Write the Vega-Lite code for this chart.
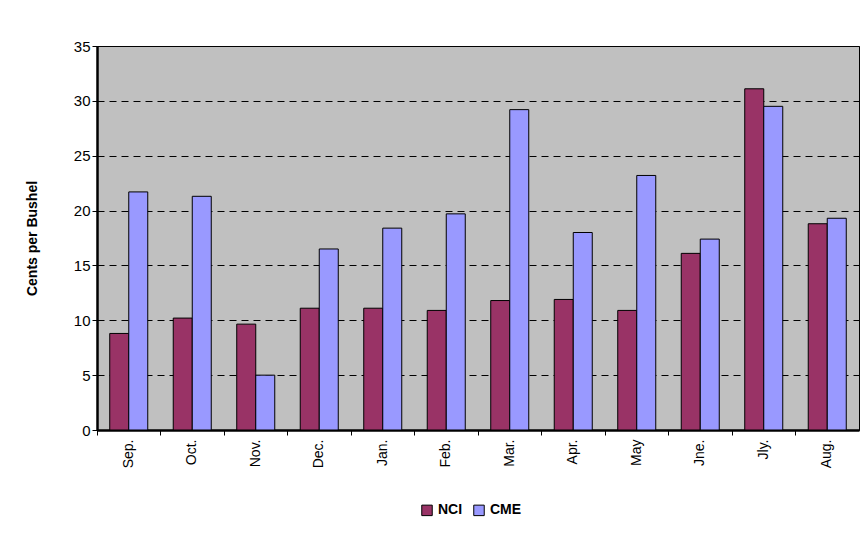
{
  "$schema": "https://vega.github.io/schema/vega-lite/v6.json",
  "width": 762,
  "height": 384,
  "autosize": {"type": "none"},
  "padding": {"left": 97, "top": 46, "right": 5, "bottom": 107},
  "background": "white",
  "config": {
    "font": "Liberation Sans",
    "view": {"fill": "#C0C0C0", "stroke": "black", "strokeWidth": 1}
  },
  "data": {
    "values": [
      {"month": "Sep.", "series": "NCI", "value": 8.8},
      {"month": "Sep.", "series": "CME", "value": 21.7},
      {"month": "Oct.", "series": "NCI", "value": 10.2},
      {"month": "Oct.", "series": "CME", "value": 21.3},
      {"month": "Nov.", "series": "NCI", "value": 9.65},
      {"month": "Nov.", "series": "CME", "value": 5.0},
      {"month": "Dec.", "series": "NCI", "value": 11.1},
      {"month": "Dec.", "series": "CME", "value": 16.5},
      {"month": "Jan.", "series": "NCI", "value": 11.1},
      {"month": "Jan.", "series": "CME", "value": 18.4},
      {"month": "Feb.", "series": "NCI", "value": 10.9},
      {"month": "Feb.", "series": "CME", "value": 19.7},
      {"month": "Mar.", "series": "NCI", "value": 11.8},
      {"month": "Mar.", "series": "CME", "value": 29.2},
      {"month": "Apr.", "series": "NCI", "value": 11.9},
      {"month": "Apr.", "series": "CME", "value": 18.0},
      {"month": "May", "series": "NCI", "value": 10.9},
      {"month": "May", "series": "CME", "value": 23.2},
      {"month": "Jne.", "series": "NCI", "value": 16.1},
      {"month": "Jne.", "series": "CME", "value": 17.4},
      {"month": "Jly.", "series": "NCI", "value": 31.1},
      {"month": "Jly.", "series": "CME", "value": 29.5},
      {"month": "Aug.", "series": "NCI", "value": 18.8},
      {"month": "Aug.", "series": "CME", "value": 19.3}
    ]
  },
  "mark": {"type": "bar", "stroke": "black", "strokeWidth": 1},
  "encoding": {
    "x": {
      "field": "month",
      "type": "nominal",
      "sort": null,
      "scale": {"paddingInner": 0, "paddingOuter": 0},
      "axis": {
        "title": null,
        "labelAngle": -90,
        "labelFontSize": 14,
        "labelColor": "black",
        "bandPosition": 0,
        "domainColor": "black",
        "domainWidth": 2.5,
        "tickColor": "black",
        "tickSize": 5,
        "labelPadding": 4,
        "grid": false
      }
    },
    "xOffset": {
      "field": "series",
      "type": "nominal",
      "sort": ["NCI", "CME"],
      "scale": {"paddingInner": 0, "paddingOuter": 0.67}
    },
    "y": {
      "field": "value",
      "type": "quantitative",
      "scale": {"domain": [0, 35]},
      "axis": {
        "title": "Cents per Bushel",
        "titleFontSize": 14,
        "titleFontWeight": "bold",
        "titleColor": "black",
        "titlePadding": 34,
        "values": [0, 5, 10, 15, 20, 25, 30, 35],
        "labelFontSize": 15,
        "labelColor": "black",
        "domainColor": "black",
        "domainWidth": 2.5,
        "tickColor": "black",
        "tickSize": 5,
        "grid": true,
        "gridColor": "black",
        "gridDash": [7, 5],
        "gridWidth": 1
      }
    },
    "color": {
      "field": "series",
      "type": "nominal",
      "sort": ["NCI", "CME"],
      "scale": {"domain": ["NCI", "CME"], "range": ["#993366", "#9999FF"]},
      "legend": {
        "title": null,
        "orient": "none",
        "legendX": 323,
        "legendY": 457,
        "direction": "horizontal",
        "symbolType": "square",
        "symbolSize": 110,
        "symbolStrokeColor": "black",
        "symbolStrokeWidth": 1,
        "labelFontSize": 14,
        "labelFontWeight": "bold",
        "labelColor": "black",
        "columnPadding": 8,
        "labelOffset": 4
      }
    }
  }
}
